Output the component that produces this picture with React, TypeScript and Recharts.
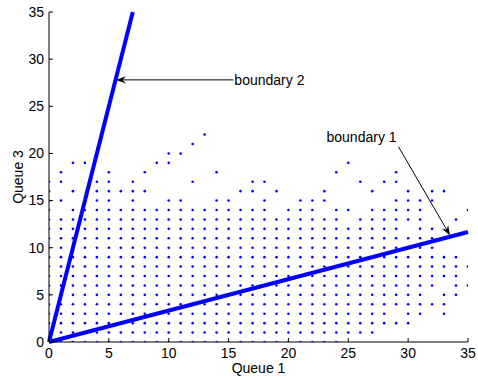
import { ScatterChart, Scatter, XAxis, YAxis, ReferenceLine } from "recharts";

const axisTicks = [0, 5, 10, 15, 20, 25, 30, 35];

// visited states: one entry per Queue 3 level (0, 1, 2, ...), listing Queue 1 values ("a-b" = run)
const visitedRows: string[] = [
  "0-24",
  "0-27",
  "0-30",
  "0-28,30,31,33",
  "0-33",
  "0-31,33,34",
  "0-32,34,35",
  "0-34",
  "0-35",
  "0-34",
  "0-32",
  "0-33",
  "0-29,31,32",
  "0-24,26-31,34",
  "0,2-18,20-22,24,25,27-31,35",
  "0,1,4,5,7,10,11,14,15,18,21-23,29-32",
  "0,2,4-8,16,17,19,23,27,30,32,33",
  "0,1,4,5,7,12,17,18,26,28,29",
  "1,5,8,14,24,29",
  "2,3,9,10,25",
  "10,11",
  "12",
  "13",
];

const boundary1 = [{ x: 0, y: 0 }, { x: 35, y: 11.67 }];
const boundary2 = [{ x: 0, y: 0 }, { x: 7, y: 35 }];

const arrow1 = { label: "boundary 1", tail: { x: 29.2, y: 20.7 }, head: { x: 33.5, y: 11.3 } };
const arrow2 = { label: "boundary 2", tail: { x: 15.4, y: 27.8 }, head: { x: 5.6, y: 27.8 } };

const FONT = "'Liberation Sans', Arial, Helvetica, sans-serif";
const FS = 14;
const BLUE = "#0000ff";

function expandRow(spec: string): number[] {
  const out: number[] = [];
  spec.split(",").forEach((part) => {
    const [a, b] = part.split("-").map(Number);
    if (b === undefined) out.push(a);
    else for (let v = a; v <= b; v++) out.push(v);
  });
  return out;
}

const states = visitedRows.flatMap((spec, q3) =>
  expandRow(spec).map((q1) => ({ q1, q3 }))
);

const Dot = (props: any) => {
  const { cx, cy } = props;
  if (cx == null || cy == null) return null;
  return <circle cx={cx} cy={cy} r={1.3} fill={BLUE} />;
};

const YTick = (props: any) => {
  const { x, y, payload } = props;
  return (
    <g>
      <line x1={x} x2={x + 4} y1={y} y2={y} stroke="#000" />
      <text x={x - 5} y={y} dy="0.35em" textAnchor="end" fontSize={FS} fontFamily={FONT} fill="#000">
        {payload.value}
      </text>
    </g>
  );
};

const XTick = (props: any) => {
  const { x, y, payload } = props;
  return (
    <g>
      <line x1={x} x2={x} y1={y} y2={y - 4} stroke="#000" />
      <text x={x} y={y + 16} textAnchor="middle" fontSize={FS} fontFamily={FONT} fill="#000">
        {payload.value}
      </text>
    </g>
  );
};

function makeArrow(label: string, side: "right" | "above") {
  return (p: any) => {
    const { x1, y1, x2, y2 } = p;
    const ang = Math.atan2(y2 - y1, x2 - x1);
    const L = 10;
    const W = 3.6;
    const ux = Math.cos(ang);
    const uy = Math.sin(ang);
    const bx = x2 - ux * L;
    const by = y2 - uy * L;
    const nx = x2 - ux * L * 0.65;
    const ny = y2 - uy * L * 0.65;
    const pts = [
      [x2, y2],
      [bx - uy * W, by + ux * W],
      [nx, ny],
      [bx + uy * W, by - ux * W],
    ]
      .map((q) => q.join(","))
      .join(" ");
    return (
      <g>
        <line x1={x1} y1={y1} x2={nx} y2={ny} stroke="#000" strokeWidth={1} />
        <polygon points={pts} fill="#000" />
        {side === "right" ? (
          <text x={x1 + 1} y={y1} dy="0.35em" fontSize={FS} fontFamily={FONT} fill="#000">
            {label}
          </text>
        ) : (
          <text x={x1 - 2} y={y1 - 5} textAnchor="end" fontSize={FS} fontFamily={FONT} fill="#000">
            {label}
          </text>
        )}
      </g>
    );
  };
}

const XTitle = (p: any) => {
  const vb = p.viewBox;
  return (
    <text x={vb.x + vb.width / 2} y={vb.y + 31} textAnchor="middle" fontSize={FS} fontFamily={FONT} fill="#000">
      Queue 1
    </text>
  );
};

const YTitle = (p: any) => {
  const vb = p.viewBox;
  const cy = vb.y + vb.height / 2;
  return (
    <text
      x={18}
      y={cy}
      dy="0.35em"
      textAnchor="middle"
      transform={`rotate(-90, 18, ${cy})`}
      fontSize={FS}
      fontFamily={FONT}
      fill="#000"
    >
      Queue 3
    </text>
  );
};

export default function App() {
  return (
    <div style={{ position: "absolute", left: 0, top: 0, width: 478, height: 377, background: "#fff" }}>
      <ScatterChart width={478} height={377} margin={{ top: 12, right: 10, bottom: 0, left: 0 }}>
        <XAxis
          type="number"
          dataKey="q1"
          domain={[0, 35]}
          ticks={axisTicks}
          allowDataOverflow
          height={35}
          tickSize={0}
          tickMargin={0}
          tickLine={false}
          axisLine={{ stroke: "#000" }}
          tick={<XTick />}
          label={{ value: "Queue 1", content: <XTitle /> }}
        />
        <YAxis
          type="number"
          dataKey="q3"
          domain={[0, 35]}
          ticks={axisTicks}
          allowDataOverflow
          width={49}
          tickSize={0}
          tickMargin={0}
          tickLine={false}
          axisLine={{ stroke: "#000" }}
          tick={<YTick />}
          label={{ value: "Queue 3", content: <YTitle /> }}
        />
        <Scatter data={states} shape={<Dot />} isAnimationActive={false} />
        <ReferenceLine segment={boundary1} stroke={BLUE} strokeWidth={4} ifOverflow="visible" />
        <ReferenceLine segment={boundary2} stroke={BLUE} strokeWidth={4} ifOverflow="visible" />
        <ReferenceLine
          segment={[arrow1.tail, arrow1.head]}
          ifOverflow="visible"
          shape={makeArrow(arrow1.label, "above")}
        />
        <ReferenceLine
          segment={[arrow2.tail, arrow2.head]}
          ifOverflow="visible"
          shape={makeArrow(arrow2.label, "right")}
        />
      </ScatterChart>
    </div>
  );
}
